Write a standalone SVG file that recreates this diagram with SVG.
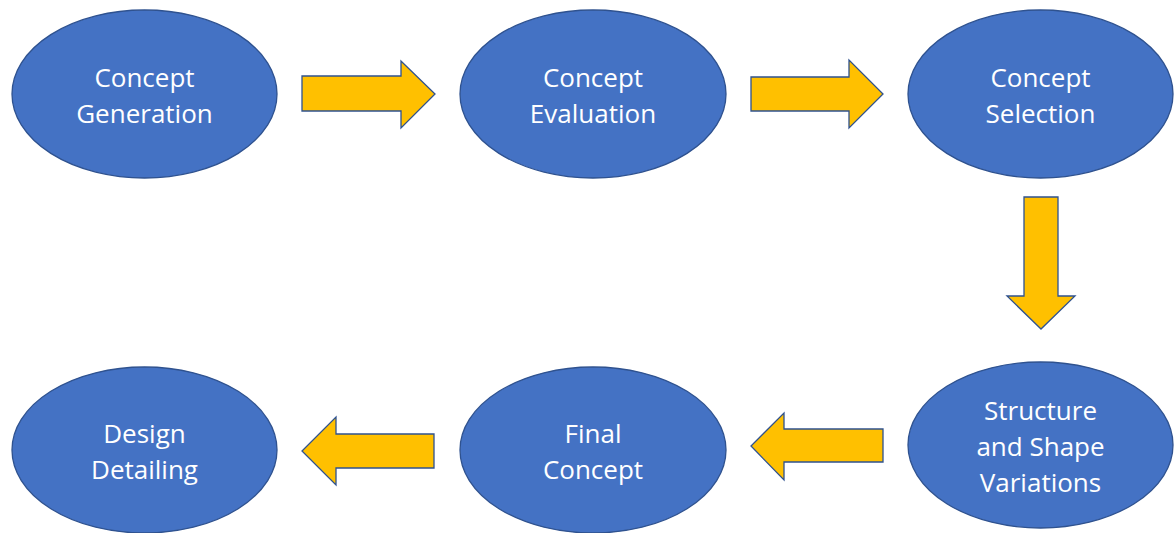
<svg xmlns="http://www.w3.org/2000/svg" width="1176" height="533" viewBox="0 0 1176 533">
  <style>
    .node ellipse { fill: #4472C4; stroke: #2F528F; stroke-width: 1.3; }
    .node text { fill: #FFFFFF; font-family: "Open Sans", "Noto Sans", sans-serif; font-size: 26px; text-anchor: middle; }
    .arrow { fill: #FFC000; stroke: #2F528F; stroke-width: 1.3; stroke-linejoin: miter; }
  </style>
  <rect width="1176" height="533" fill="#FFFFFF"/>

  <g id="concept-generation" class="node">
    <ellipse cx="144.5" cy="94" rx="132.5" ry="84"/>
    <text x="144.5" y="87">Concept</text>
    <text x="144.5" y="123">Generation</text>
  </g>
  <g id="concept-evaluation" class="node">
    <ellipse cx="593" cy="94" rx="133" ry="84"/>
    <text x="593" y="87">Concept</text>
    <text x="593" y="123">Evaluation</text>
  </g>
  <g id="concept-selection" class="node">
    <ellipse cx="1040.5" cy="94" rx="132.5" ry="84"/>
    <text x="1040.5" y="87">Concept</text>
    <text x="1040.5" y="123">Selection</text>
  </g>
  <g id="structure-shape-variations" class="node">
    <ellipse cx="1040.5" cy="445" rx="132.5" ry="83"/>
    <text x="1040.5" y="420">Structure</text>
    <text x="1040.5" y="456">and Shape</text>
    <text x="1040.5" y="492">Variations</text>
  </g>
  <g id="final-concept" class="node">
    <ellipse cx="593" cy="450" rx="133" ry="83"/>
    <text x="593" y="443">Final</text>
    <text x="593" y="479">Concept</text>
  </g>
  <g id="design-detailing" class="node">
    <ellipse cx="144.5" cy="450" rx="132.5" ry="83"/>
    <text x="144.5" y="443">Design</text>
    <text x="144.5" y="479">Detailing</text>
  </g>

  <g id="connectors">
    <!-- generation -> evaluation -->
    <polygon class="arrow" points="302,76 401,76 401,61 435,94 401,128 401,111 302,111"/>
    <!-- evaluation -> selection -->
    <polygon class="arrow" points="751,77 849,77 849,60 883,94 849,128 849,111 751,111"/>
    <!-- selection -> structure and shape variations -->
    <polygon class="arrow" points="1024,197 1058,197 1058,296 1075,296 1041,329 1007,296 1024,296"/>
    <!-- structure and shape variations -> final concept -->
    <polygon class="arrow" points="883,429 784,429 784,413 751,446 784,480 784,462 883,462"/>
    <!-- final concept -> design detailing -->
    <polygon class="arrow" points="434,434 336,434 336,417 302,451 336,485 336,468 434,468"/>
  </g>
</svg>
